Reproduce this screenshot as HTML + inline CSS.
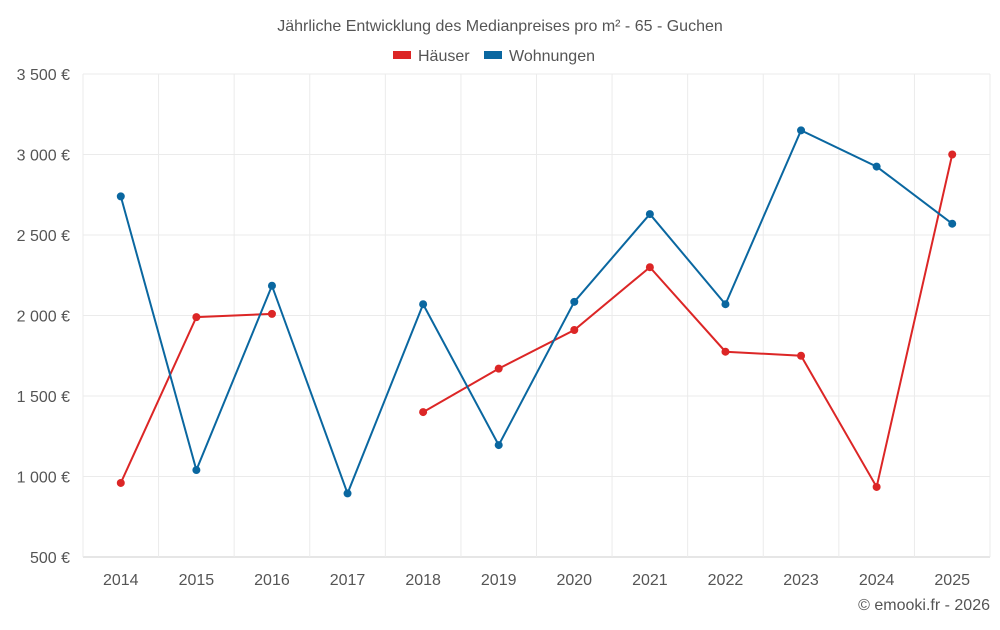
<!DOCTYPE html>
<html><head><meta charset="utf-8"><style>
body{margin:0;background:#fff;font-family:"Liberation Sans",sans-serif}
svg text{font-family:"Liberation Sans",sans-serif;fill:#555}
</style></head><body>
<svg id="chart" width="1000" height="625">
<text x="500" y="31" text-anchor="middle" font-size="16">Jährliche Entwicklung des Medianpreises pro m² - 65 - Guchen</text>
<g>
<rect x="393" y="51" width="18" height="8" fill="#dc2626"/>
<text x="418" y="61" font-size="16">Häuser</text>
<rect x="484" y="51" width="18" height="8" fill="#0a67a0"/>
<text x="509" y="61" font-size="16">Wohnungen</text>
</g>
<g id="grid"></g><g id="axes"></g><g id="series"></g>
<text x="990" y="610" text-anchor="end" font-size="16">© emooki.fr - 2026</text>
</svg>
<script>
const years=[2014,2015,2016,2017,2018,2019,2020,2021,2022,2023,2024,2025];
const haeuser=[960,1990,2010,null,1400,1670,1910,2300,1775,1750,935,3000];
const wohnungen=[2740,1040,2185,895,2070,1195,2085,2630,2070,3150,2925,2570];
const yTicks=[500,1000,1500,2000,2500,3000,3500];
const yTickLabels=["500 €","1 000 €","1 500 €","2 000 €","2 500 €","3 000 €","3 500 €"];
const L=83,R=990,T=74,B=557,ymin=500,ymax=3500;
const step=(R-L)/years.length;
const xs=i=>L+step*(i+0.5);
const ys=v=>B-(v-ymin)/(ymax-ymin)*(B-T);
const NS="http://www.w3.org/2000/svg";
const grid=document.getElementById('grid'),axes=document.getElementById('axes'),ser=document.getElementById('series');
function mk(tag,a,p){const e=document.createElementNS(NS,tag);for(const k in a)e.setAttribute(k,a[k]);p.appendChild(e);return e;}
yTicks.forEach((v,i)=>{
 const l=mk('line',{x1:L,x2:R,y1:ys(v),y2:ys(v),stroke:i==0?'#ccc':'#ebebeb'},grid);
 
 
 const t=mk('text',{x:70,y:ys(v)+6,'text-anchor':'end','font-size':16},axes);t.textContent=yTickLabels[i];
 
 
});
for(let i=0;i<=years.length;i++){
 const l=mk('line',{x1:L+step*i,x2:L+step*i,y1:T,y2:B,stroke:'#ebebeb'},grid);
 
 
}
years.forEach((y,i)=>{
 const t=mk('text',{x:xs(i),y:585,'text-anchor':'middle','font-size':16},axes);t.textContent=y;
 
 
});
function draw(data,color,name){
 let seg=[];const segs=[];
 data.forEach((v,i)=>{if(v==null){if(seg.length)segs.push(seg);seg=[];}else seg.push([xs(i),ys(v)]);});
 if(seg.length)segs.push(seg);
 segs.forEach(s=>{const p=mk('polyline',{points:s.map(q=>q.join(',')).join(' '),fill:'none',stroke:color,'stroke-width':2},ser);
  
  });
 data.forEach((v,i)=>{if(v==null)return;const c=mk('circle',{cx:xs(i),cy:ys(v),r:4,fill:color},ser);
  
  });
}
draw(haeuser,'#dc2626','haeuser');
draw(wohnungen,'#0a67a0','wohnungen');
</script>
</body></html>
